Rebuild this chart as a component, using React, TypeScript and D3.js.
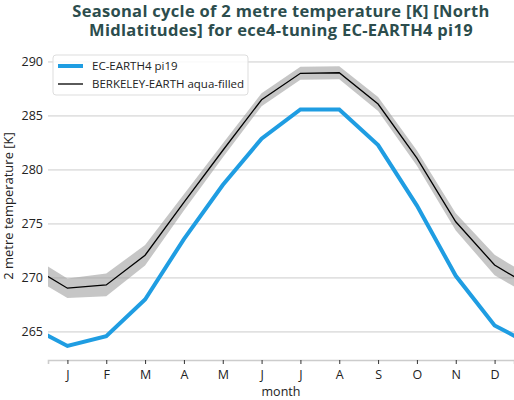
import { useEffect, useRef } from "react";
import * as d3 from "d3";

const WIDTH = 514;
const HEIGHT = 400;
const MARGIN = { top: 49, right: 0, bottom: 40, left: 48 };

const MONTHS = ["J", "F", "M", "A", "M", "J", "J", "A", "S", "O", "N", "D"];
const Y_TICKS = [265, 270, 275, 280, 285, 290];

// EC-EARTH4 pi19, Jan..Dec
const MODEL = [263.7, 264.6, 268.0, 273.6, 278.6, 282.9, 285.6, 285.6, 282.3, 276.7, 270.2, 265.6];
// BERKELEY-EARTH aqua-filled, Jan..Dec
const OBS = [269.05, 269.35, 272.1, 277.0, 281.8, 286.5, 288.95, 289.0, 286.1, 281.1, 275.2, 271.2];
// spread of the grey band around OBS
const OBS_SPREAD = [0.9, 1.05, 0.95, 0.75, 0.65, 0.6, 0.6, 0.6, 0.65, 0.7, 0.8, 0.95];

const BLUE = "#1f9de2";
const TITLE_COLOR = "#2c4d4d";
const FONT = "'Open Sans', 'DejaVu Sans', sans-serif";

// wrap Dec before Jan and Jan after Dec so the lines run to the edges
const wrap = (v: number[]) =>
    [v[11], ...v, v[0]].map((value, i) => ({ month: i, value }));

export default function App() {
    const axesRef = useRef<SVGGElement | null>(null);
    const boundsWidth = WIDTH - MARGIN.left - MARGIN.right;
    const boundsHeight = HEIGHT - MARGIN.top - MARGIN.bottom;

    const xScale = d3.scaleLinear().domain([0.5, 12.5]).range([0, boundsWidth]);
    const yScale = d3.scaleLinear().domain([262.4, 291.2]).range([boundsHeight, 0]);

    const model = wrap(MODEL);
    const obs = wrap(OBS);
    const spread = wrap(OBS_SPREAD);

    const line = d3
        .line<{ month: number; value: number }>()
        .x((d) => xScale(d.month))
        .y((d) => yScale(d.value));

    const band = d3
        .area<{ month: number; value: number }>()
        .x((d) => xScale(d.month))
        .y0((d, i) => yScale(d.value - spread[i].value))
        .y1((d, i) => yScale(d.value + spread[i].value));

    useEffect(() => {
        const g = d3.select(axesRef.current);
        g.selectAll("*").remove();

        // x axis
        const xAxis = g
            .append("g")
            .attr("transform", `translate(0,${boundsHeight})`)
            .call(
                d3
                    .axisBottom(xScale)
                    .tickValues(d3.range(1, 13))
                    .tickFormat((d) => MONTHS[(d as number) - 1])
                    .tickSize(4)
                    .tickPadding(6)
            );
        xAxis.select(".domain").attr("stroke", "#cccccc").attr("stroke-width", 1.6);
        xAxis.selectAll(".tick line").attr("stroke", "#333");
        xAxis
            .selectAll(".tick text")
            .attr("font-family", FONT)
            .attr("font-size", 12.5)
            .attr("fill", "#222");

        // y axis
        const yAxis = g
            .append("g")
            .call(d3.axisLeft(yScale).tickValues(Y_TICKS).tickSize(0).tickPadding(5));
        yAxis.select(".domain").remove();
        yAxis
            .selectAll(".tick text")
            .attr("font-family", FONT)
            .attr("font-size", 12.5)
            .attr("fill", "#222");
    }, [boundsHeight]);

    return (
        <svg width={WIDTH} height={HEIGHT} style={{ position: "absolute", left: 0, top: 0 }}>
            <rect width={WIDTH} height={HEIGHT} fill="white" />
            <text
                x={281}
                y={17}
                textAnchor="middle"
                fontFamily={FONT}
                fontWeight="bold"
                fontSize={16.5}
                letterSpacing={0.3}
                fill={TITLE_COLOR}
            >
                <tspan x={281}>Seasonal cycle of 2 metre temperature [K] [North</tspan>
                <tspan x={281} dy={19}>Midlatitudes] for ece4-tuning EC-EARTH4 pi19</tspan>
            </text>
            <defs>
                <clipPath id="plot-clip">
                    <rect width={boundsWidth} height={boundsHeight} />
                </clipPath>
            </defs>
            <g transform={`translate(${MARGIN.left},${MARGIN.top})`}>
                {Y_TICKS.map((t) => (
                    <line
                        key={t}
                        x1={0}
                        x2={boundsWidth}
                        y1={yScale(t)}
                        y2={yScale(t)}
                        stroke="#cccccc"
                        strokeWidth={1}
                    />
                ))}
                <g clipPath="url(#plot-clip)">
                    <path d={band(obs) ?? ""} fill="#a0a0a0" opacity={0.6} />
                    <path d={line(obs) ?? ""} fill="none" stroke="black" strokeWidth={1.3} />
                    <path d={line(model) ?? ""} fill="none" stroke={BLUE} strokeWidth={4} />
                </g>
                <g ref={axesRef} />
            </g>
            <g transform="translate(53,55)">
                <rect
                    width={195}
                    height={40}
                    rx={3}
                    fill="white"
                    fillOpacity={0.85}
                    stroke="#dddddd"
                />
                <line x1={5} x2={30} y1={11} y2={11} stroke={BLUE} strokeWidth={4} />
                <text x={39} y={15} fontFamily={FONT} fontSize={11.5} fill="#222">
                    EC-EARTH4 pi19
                </text>
                <line x1={5} x2={30} y1={29} y2={29} stroke="black" strokeWidth={1.3} />
                <text x={39} y={33} fontFamily={FONT} fontSize={11.5} fill="#222">
                    BERKELEY-EARTH aqua-filled
                </text>
            </g>
            <text
                transform="translate(13,206) rotate(-90)"
                textAnchor="middle"
                fontFamily={FONT}
                fontSize={13}
                fill="#222"
            >
                2 metre temperature [K]
            </text>
            <text x={281} y={396} textAnchor="middle" fontFamily={FONT} fontSize={12.5} fill="#222">
                month
            </text>
        </svg>
    );
}
